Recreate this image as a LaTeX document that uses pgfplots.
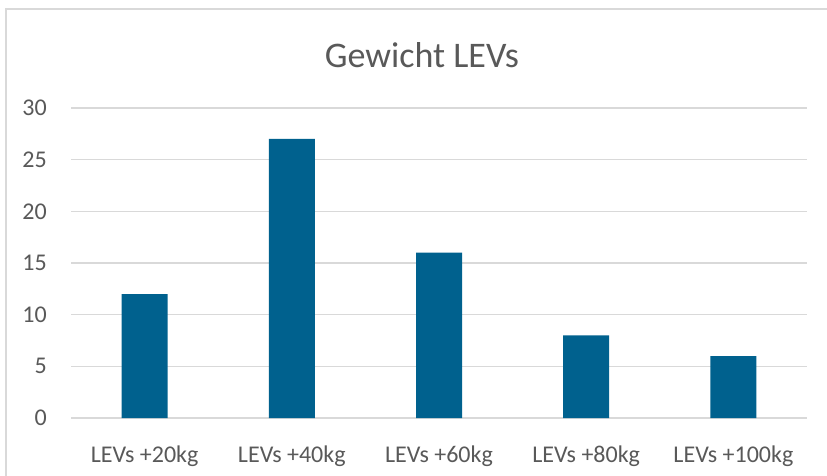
\documentclass[border=0pt]{standalone}
\usepackage{fontspec}
\setmainfont{Carlito}
\usepackage{pgfplots}
\pgfplotsset{compat=1.18}
\definecolor{barblue}{HTML}{00618E}
\definecolor{txtgray}{HTML}{595959}
\definecolor{gridgray}{HTML}{D9D9D9}
\begin{document}
\begin{tikzpicture}
% 1px = 0.75pt, page 827x475 px
\useasboundingbox (0,0) rectangle (620.25pt,356.25pt);
\clip (0,0) rectangle (620.25pt,356.25pt);
\fill[white] (0,0) rectangle (620.25pt,356.25pt);
\draw[gridgray, line width=1.5pt] (4.5pt,-10pt) rectangle (630pt,349.5pt);
\begin{axis}[
  at={(53.25pt,42.75pt)}, anchor=south west,
  scale only axis, width=552pt, height=232.5pt,
  ybar, bar width=34.5pt,
  xmin=-0.5, xmax=4.5, ymin=0, ymax=30,
  enlargelimits=false,
  xtick={0,1,2,3,4},
  xticklabels={LEVs +20kg, LEVs +40kg, LEVs +60kg, LEVs +80kg, LEVs +100kg},
  ytick={0,5,...,30},
  ymajorgrids, grid style={gridgray, line width=0.9pt},
  axis line style={draw=none},
  tick style={draw=none},
  /pgf/number format/assume math mode=true,
  ticklabel style={font=\fontsize{18pt}{21pt}\selectfont, text=txtgray, inner sep=0pt},
  yticklabel style={anchor=east, xshift=-18pt},
  xticklabel style={anchor=base, yshift=-29.25pt},
]
\addplot[fill=barblue, draw=none] coordinates {(0,12) (1,27) (2,16) (3,8) (4,6)};
\end{axis}
\node[anchor=base, text=txtgray, font=\fontsize{27pt}{32pt}\selectfont] at (316.5pt,305.25pt) {Gewicht LEVs};
\end{tikzpicture}
\end{document}
